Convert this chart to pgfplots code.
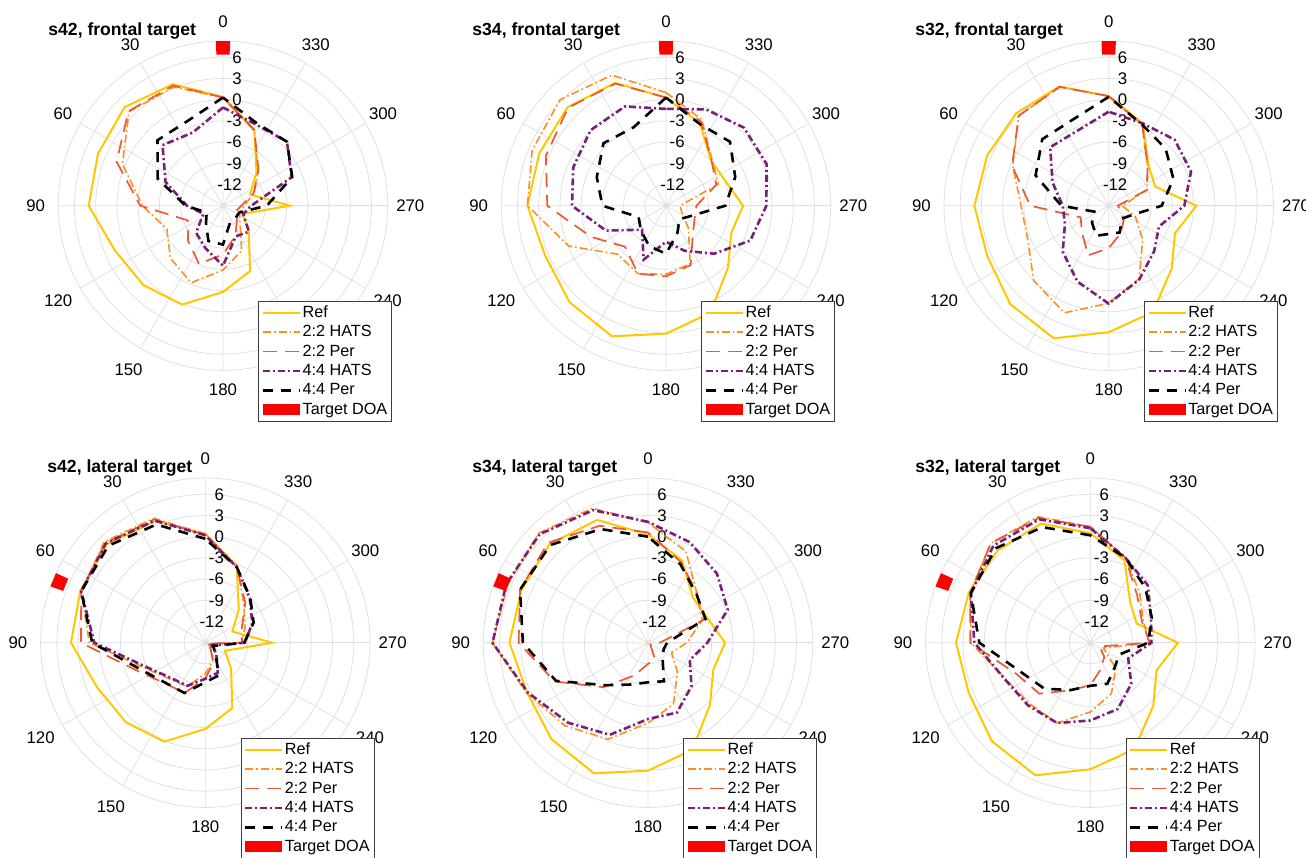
\documentclass[border=0pt]{standalone}
\usepackage{fontspec}
\setmainfont{Liberation Sans}
\usepackage{pgfplots}
\usepackage{pgfplotstable}
\pgfplotsset{compat=1.18}
\usepgfplotslibrary{polar}

\definecolor{gridc}{RGB}{224,224,224}
\definecolor{cref}{RGB}{255,199,0}
\definecolor{ch22}{RGB}{255,142,30}
\definecolor{cp22}{RGB}{236,88,52}
\definecolor{ch44}{RGB}{122,30,122}
\definecolor{legc}{RGB}{60,60,60}
\newcommand{\lab}{\fontsize{8.4}{10}\selectfont}
\newcommand{\leg}{\fontsize{8.1}{9.5}\selectfont}
\newcommand{\ttl}{\fontsize{8.8}{10}\selectfont\bfseries}

% angle a (deg, ccw from front), levels in dB
\pgfplotstableread{
a ref h22 p22 h44 p44
0 0.4 0.3 0.3 -1.1 0.3
22.5 3.6 3.2 3.4 -3.8 -2.0
45 4.7 3.8 3.9 -2.9 -1.9
67.5 4.15 0.4 1.3 -6.2 -5.0
90 4.0 -3.6 -3.3 -9.9 -9.7
112.5 1.55 -6.4 -9.6 -12.0 -12.5
135 0.9 -4.5 -8.0 -9.6 -11.6
157.5 0.15 -3.2 -6.1 -8.5 -9.6
180 -2.8 -5.9 -8.1 -6.5 -9.5
202.5 -5.0 -8.1 -10.4 -10.3 -12.4
225 -9.85 -11.6 -12.2 -9.8 -12.5
247.5 -12.0 -12.5 -13.0 -11.9 -12.5
270 -5.55 -12.0 -12.4 -11.0 -8.8
292.5 -10.85 -10.2 -10.3 -4.5 -4.4
315 -8.3 -8.0 -7.9 -2.2 -2.2
337.5 -3.4 -3.5 -3.4 -2.6 -2.4
360 0.4 0.3 0.3 -1.1 0.3
}\tA
\pgfplotstableread{
a ref h22 p22 h44 p44
0 0.3 1.0 0.3 -1.3 0.3
22.5 3.8 5.0 3.7 0.2 -3.0
45 4.7 6.2 4.6 0.1 -2.5
67.5 4.4 5.5 3.4 -0.8 -4.4
90 4.6 4.6 1.8 -1.7 -6.0
112.5 3.5 -0.1 -3.5 -5.8 -10.8
135 4.3 -5.3 -6.8 -10.2 -10.0
157.5 5.0 -4.6 -4.6 -6.75 -8.8
180 3.1 -5.3 -5.0 -9.9 -8.2
202.5 1.4 -6.1 -5.9 -8.1 -10.8
225 -2.6 -10.5 -9.6 -5.4 -12.3
247.5 -5.0 -12.6 -10.6 -2.1 -11.2
270 -4.1 -13.0 -10.7 -0.8 -6.6
292.5 -5.9 -7.0 -7.3 0.4 -4.4
315 -6.0 -5.8 -5.9 0.6 -2.2
337.5 -2.4 -1.8 -2.1 -0.25 -2.5
360 0.3 1.0 0.3 -1.3 0.3
}\tB
\pgfplotstableread{
a ref h22 p22 h44 p44
0 0.5 0.5 0.5 -1.7 0.4
22.5 3.25 3.2 3.2 -3.5 -1.8
45 3.5 3.0 3.0 -3.3 -1.7
67.5 3.6 -0.3 -0.2 -6.4 -3.8
90 4.0 -2.6 -3.9 -8.5 -8.3
112.5 3.6 -2.6 -10.7 -8.3 -12.8
135 4.7 0.0 -9.65 -5.8 -11.65
157.5 5.3 1.4 -7.4 -3.4 -10.4
180 2.9 -1.2 -9.0 -1.15 -11.0
202.5 1.3 -3.8 -10.7 -3.7 -10.9
225 -2.4 -8.2 -12.0 -5.9 -12.4
247.5 -4.85 -10.9 -13.2 -7.3 -11.5
270 -2.6 -13.1 -13.7 -4.3 -7.5
292.5 -7.9 -9.1 -9.2 -2.4 -5.1
315 -7.0 -7.2 -7.2 -1.8 -3.6
337.5 -2.4 -2.6 -2.6 -2.4 -2.6
360 0.5 0.5 0.5 -1.7 0.4
}\tC
\pgfplotstableread{
a ref h22 p22 h44 p44
0 0.4 0.4 0.2 0.2 -0.3
22.5 3.6 4.05 3.9 3.7 3.1
45 4.7 5.2 4.9 4.9 4.4
67.5 4.15 4.0 4.0 4.0 4.0
90 4.0 1.4 2.6 0.7 1.0
112.5 1.55 -5.7 -4.6 -6.0 -5.1
135 0.9 -7.8 -6.9 -8.0 -7.0
157.5 0.15 -8.3 -7.3 -8.4 -7.3
180 -2.8 -10.6 -9.9 -9.9 -9.4
202.5 -5.0 -12.2 -12.0 -10.4 -10.0
225 -9.85 -14.0 -14.0 -12.8 -13.0
247.5 -12.0 -14.5 -14.7 -14.0 -13.8
270 -5.55 -9.8 -9.8 -9.4 -9.5
292.5 -10.85 -8.9 -9.4 -7.8 -7.6
315 -8.3 -7.3 -7.0 -6.1 -6.0
337.5 -3.4 -3.2 -3.4 -3.4 -3.4
360 0.4 0.4 0.2 0.2 -0.3
}\tD
\pgfplotstableread{
a ref h22 p22 h44 p44
0 0.3 2.0 0.6 2.1 0.0
22.5 3.8 5.6 2.9 5.3 2.4
45 4.7 6.9 5.0 6.7 4.55
67.5 4.4 6.5 4.6 6.7 4.6
90 4.6 7.0 3.3 7.0 2.7
112.5 3.5 3.6 -0.7 3.4 -0.9
135 4.3 1.6 -6.1 1.0 -6.5
157.5 5.0 -0.2 -10.0 -0.9 -8.6
180 3.1 -3.65 -12.0 -4.2 -9.4
202.5 1.4 -5.6 -12.5 -4.3 -9.1
225 -2.6 -9.1 -14.5 -6.3 -12.1
247.5 -5.0 -11.4 -14.5 -8.6 -12.6
270 -4.1 -9.5 -13.3 -6.6 -12.3
292.5 -5.9 -6.7 -6.3 -2.8 -6.2
315 -6.0 -5.2 -5.2 -1.2 -5.3
337.5 -2.4 -1.0 -2.7 0.4 -3.0
360 0.3 2.0 0.6 2.1 0.0
}\tE
\pgfplotstableread{
a ref h22 p22 h44 p44
0 0.5 1.4 1.4 1.2 0.2
22.5 3.25 4.3 4.1 3.9 2.7
45 3.5 4.9 4.9 4.4 3.9
67.5 3.6 3.4 3.4 3.3 3.3
90 4.0 1.9 2.0 1.4 0.7
112.5 3.6 -1.9 -3.6 -1.8 -4.3
135 4.7 -2.8 -4.8 -2.5 -5.8
157.5 5.3 -2.7 -7.7 -2.7 -7.75
180 2.9 -5.2 -9.0 -4.0 -8.9
202.5 1.3 -7.2 -11.0 -4.85 -8.7
225 -2.4 -9.9 -12.2 -6.8 -10.1
247.5 -4.85 -13.0 -13.6 -9.2 -10.6
270 -2.6 -6.7 -6.6 -6.35 -6.8
292.5 -7.9 -6.9 -7.1 -5.7 -5.6
315 -7.0 -5.1 -5.6 -3.5 -4.0
337.5 -2.4 -2.0 -2.0 -2.0 -2.0
360 0.5 1.4 1.4 1.2 0.2
}\tF

\pgfplotsset{
  legend image code/.code={\draw[#1] (0pt,0pt) -- (18.5pt,0pt);},
  pol/.style={
    width=164.7pt, height=164.7pt, scale only axis, anchor=center,
    xmin=0, xmax=360, ymin=0, ymax=23.3, clip=false, no markers,
    x filter/.expression={x+90}, y filter/.expression={y+15},
    xtick={0,30,...,330}, xticklabels={,,},
    ytick={3,6,...,21}, yticklabels={,,},
    grid=major, major grid style={draw=gridc, line width=0.4pt},
    axis line style={draw=gridc, line width=0.4pt},
    tick style={draw=none},
    legend style={at={(0.607,0.2107)}, anchor=north west, draw=legc,
      line width=0.4pt, fill=white, font=\leg, inner xsep=1.5pt, inner ysep=1pt,
      row sep=0.3pt,
      nodes={inner sep=0.7pt, text height=6.2pt, text depth=1.8pt}},
    legend cell align=left,
  },
  sref/.style={draw=cref, line width=1.0pt},
  sh22/.style={draw=ch22, line width=0.8pt, dash pattern=on 4pt off 1.5pt on 0.8pt off 1.5pt},
  sp22/.style={draw=cp22, line width=0.85pt, dash pattern=on 7pt off 4pt},
  sh44/.style={draw=ch44, line width=1.3pt, dash pattern=on 3.5pt off 1.5pt on 1pt off 1.5pt},
  sp44/.style={draw=black, line width=1.3pt, dash pattern=on 5pt off 4pt},
  starg/.style={fill=red, draw=none,
    legend image code/.code={\fill[red] (0pt,-2.75pt) rectangle (18.5pt,2.75pt);}},
}
\tikzset{
  rl/.style={anchor=east, xshift=9.5pt, font=\lab, inner sep=0pt},
  al/.style={anchor=center, font=\lab, inner sep=0pt},
}
% radial and angular labels (axis cs is not filtered: angle+90, level+15)
\newcommand{\rlabels}{%
  \node[rl] at (axis cs:90,21) {6};
  \node[rl] at (axis cs:90,18) {3};
  \node[rl] at (axis cs:90,15) {0};
  \node[rl] at (axis cs:90,12) {-3};
  \node[rl] at (axis cs:90,9) {-6};
  \node[rl] at (axis cs:90,6) {-9};
  \node[rl] at (axis cs:90,3) {-12};
  \node[al] at (axis cs:90,26.0) {0};
  \node[al] at (axis cs:120,26.26) {30};
  \node[al] at (axis cs:150,26.14) {60};
  \node[al] at (axis cs:180,26.5) {90};
  \node[al] at (axis cs:210,26.9) {120};
  \node[al] at (axis cs:240,26.72) {150};
  \node[al] at (axis cs:270,26.0) {180};
  \node[al] at (axis cs:300,26.72) {210};
  \node[al] at (axis cs:330,26.9) {240};
  \node[al] at (axis cs:0,26.5) {270};
  \node[al] at (axis cs:30,26.14) {300};
  \node[al] at (axis cs:60,26.26) {330};
}
\newcommand{\curves}[1]{%
  \addplot[sref] table[x=a,y=ref] {#1};
  \addplot[sh22] table[x=a,y=h22] {#1};
  \addplot[sp22] table[x=a,y=p22] {#1};
  \addplot[sh44] table[x=a,y=h44] {#1};
  \addplot[sp44] table[x=a,y=p44] {#1};
}
\newcommand{\legendall}{\legend{Ref,2:2 HATS,2:2 Per,4:4 HATS,4:4 Per,Target DOA}}

\begin{document}
\begin{tikzpicture}
\useasboundingbox (0,0) rectangle (653pt,-428.5pt);

\begin{polaraxis}[pol, at={(111.5pt,-102.85pt)}]
\rlabels
\curves{\tA}
\addplot[starg] coordinates {(-2.5,6.4) (2.5,6.4) (2.5,8.3) (-2.5,8.3)};
\legendall
\end{polaraxis}

\begin{polaraxis}[pol, at={(333pt,-102.85pt)}]
\rlabels
\curves{\tB}
\addplot[starg] coordinates {(-2.5,6.4) (2.5,6.4) (2.5,8.3) (-2.5,8.3)};
\legendall
\end{polaraxis}

\begin{polaraxis}[pol, at={(554.35pt,-102.85pt)}]
\rlabels
\curves{\tC}
\addplot[starg] coordinates {(-2.5,6.4) (2.5,6.4) (2.5,8.3) (-2.5,8.3)};
\legendall
\end{polaraxis}

\begin{polaraxis}[pol, at={(102.65pt,-321.35pt)}]
\rlabels
\curves{\tD}
\addplot[starg] coordinates {(65,6.4) (70,6.4) (70,8.3) (65,8.3)};
\legendall
\end{polaraxis}

\begin{polaraxis}[pol, at={(324pt,-321.35pt)}]
\rlabels
\curves{\tE}
\addplot[starg] coordinates {(65,6.4) (70,6.4) (70,8.3) (65,8.3)};
\legendall
\end{polaraxis}

\begin{polaraxis}[pol, at={(545.15pt,-321.35pt)}]
\rlabels
\curves{\tF}
\addplot[starg] coordinates {(65,6.4) (70,6.4) (70,8.3) (65,8.3)};
\legendall
\end{polaraxis}

\node[anchor=base west, font=\ttl, inner sep=0pt] at (24pt,-17.75pt) {s42, frontal target};
\node[anchor=base west, font=\ttl, inner sep=0pt] at (236pt,-17.75pt) {s34, frontal target};
\node[anchor=base west, font=\ttl, inner sep=0pt] at (457.5pt,-17.75pt) {s32, frontal target};
\node[anchor=base west, font=\ttl, inner sep=0pt] at (23.5pt,-236.25pt) {s42, lateral target};
\node[anchor=base west, font=\ttl, inner sep=0pt] at (236pt,-236.25pt) {s34, lateral target};
\node[anchor=base west, font=\ttl, inner sep=0pt] at (457.5pt,-236.25pt) {s32, lateral target};
\end{tikzpicture}
\end{document}
